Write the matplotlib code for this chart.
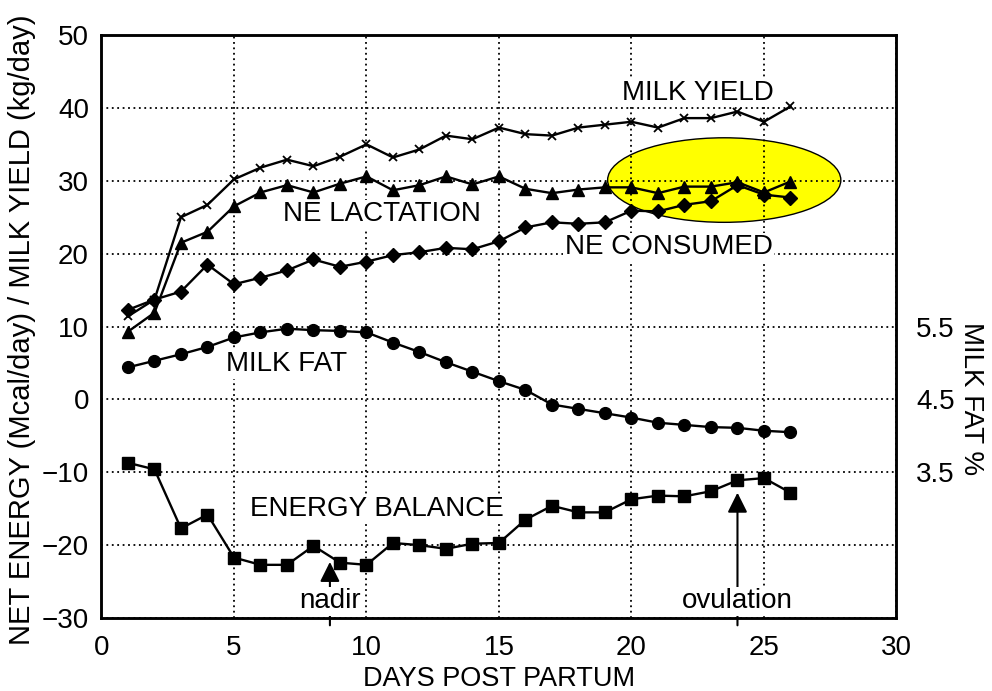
import matplotlib
matplotlib.use("Agg")
import matplotlib.pyplot as plt
from matplotlib.patches import Ellipse

plt.rcParams['font.family'] = ['Liberation Sans', 'DejaVu Sans']

# Daily means, days 1-26 post partum
days = list(range(1, 27))

milk_yield = [11.4, 13.7, 25.0, 26.7, 30.2, 31.8, 32.9, 32.0, 33.3, 35.0,
              33.2, 34.3, 36.2, 35.7, 37.3, 36.4, 36.2, 37.3, 37.7, 38.1,
              37.3, 38.6, 38.6, 39.5, 38.1, 40.2]

ne_lactation = [9.3, 11.9, 21.5, 23.0, 26.5, 28.4, 29.4, 28.4, 29.6, 30.6,
                28.7, 29.4, 30.6, 29.5, 30.6, 28.9, 28.3, 28.8, 29.1, 29.1,
                28.3, 29.2, 29.2, 29.8, 28.4, 29.9]

ne_consumed = [12.3, 13.7, 14.8, 18.5, 15.8, 16.7, 17.7, 19.2, 18.2, 18.9,
               19.8, 20.2, 20.8, 20.6, 21.7, 23.6, 24.3, 24.1, 24.3, 25.9,
               25.8, 26.7, 27.2, 29.4, 28.1, 27.7]

energy_balance = [-8.7, -9.6, -17.7, -15.8, -21.7, -22.7, -22.7, -20.1, -22.4, -22.7,
                  -19.7, -20.0, -20.5, -19.8, -19.7, -16.5, -14.6, -15.5, -15.5, -13.7,
                  -13.2, -13.3, -12.6, -11.1, -10.8, -12.8]

# milk fat, percent (right axis)
milk_fat = [4.94, 5.03, 5.12, 5.22, 5.35, 5.42, 5.47, 5.45, 5.44, 5.42,
            5.28, 5.15, 5.01, 4.88, 4.75, 4.63, 4.43, 4.37, 4.31, 4.25,
            4.18, 4.15, 4.12, 4.11, 4.07, 4.05]

x_ticks = [0, 5, 10, 15, 20, 25, 30]
y_ticks = [-30, -20, -10, 0, 10, 20, 30, 40, 50]
fat_ticks = [3.5, 4.5, 5.5]

FS = 20

fig = plt.figure(figsize=(9.92, 6.91), dpi=100)
ax = fig.add_axes([0.1023, 0.1056, 0.8014, 0.8437])

ax.set_xlim(0, 30)
ax.set_ylim(-30, 50)
ax.set_xticks(x_ticks)
ax.set_yticks(y_ticks)
ax.tick_params(labelsize=FS, length=0, pad=9)
ax.tick_params(axis='x', pad=12)
ax.grid(True, color='black', linestyle=(0, (1, 2)), linewidth=1.3)
for s in ax.spines.values():
    s.set_linewidth(1.8)

# highlight around the converging lines
ax.add_patch(Ellipse((23.5, 30.1), 8.8, 11.6, facecolor='#FFFF00',
                     edgecolor='black', linewidth=1, zorder=1))

kw = dict(color='black', linewidth=1.7, zorder=3)
ax.plot(days, milk_yield, marker='x', markersize=6, markeredgewidth=1.3, **kw)
ax.plot(days, ne_lactation, marker='^', markersize=9, **kw)
ax.plot(days, ne_consumed, marker='D', markersize=7, **kw)
ax.plot(days, energy_balance, marker='s', markersize=8, **kw)

# right axis: 1 % fat per 10 units, 4.5 % level with zero
ax2 = ax.twinx()
ax2.set_ylim(1.5, 9.5)
ax2.set_yticks(fat_ticks)
ax2.set_yticklabels(['3.5', '4.5', '5.5'])
ax2.tick_params(labelsize=FS, length=0, pad=14)
ax2.plot(days, milk_fat, marker='o', markersize=8.5, **kw)
for s in ax2.spines.values():
    s.set_linewidth(1.8)

fig.text(0.503, 1 - 686 / 691, 'DAYS POST PARTUM', fontsize=19.5,
         ha='center', va='baseline')
fig.text(22 / 992, 1 - 330 / 691, 'NET ENERGY (Mcal/day) / MILK YIELD (kg/day)',
         fontsize=21, rotation=90, ha='center', va='center')
fig.text(971 / 992, 1 - 399 / 691, 'MILK FAT %', fontsize=FS,
         rotation=-90, ha='center', va='center')

box = dict(facecolor='white', edgecolor='none', pad=1)
labels = [
    ('MILK YIELD', 22.5, 42.1),
    ('NE LACTATION', 10.6, 25.4),
    ('NE CONSUMED', 21.4, 20.9),
    ('MILK FAT', 7.0, 4.8),
    ('ENERGY BALANCE', 10.4, -15.1),
]
for txt, x, y in labels:
    ax2.text(x, y, txt, transform=ax.transData, fontsize=FS, ha='center',
             va='center', bbox=box, zorder=5)

# arrows for nadir and ovulation
arrow = dict(arrowstyle='-|>,head_length=0.6,head_width=0.3', color='black',
             lw=1.5, mutation_scale=20, shrinkA=0, shrinkB=0)
for txt, x, tip in [('nadir', 8.62, -22.3), ('ovulation', 24.0, -12.8)]:
    ax2.annotate('', xy=(x, tip), xytext=(x, -31.0), xycoords=ax.transData,
                 textcoords=ax.transData, arrowprops=arrow,
                 annotation_clip=False, zorder=4)
    ax2.text(x, -27.7, txt, transform=ax.transData, fontsize=FS, ha='center',
             va='center', bbox=box, zorder=5)

fig.savefig('out.png', dpi=100)
